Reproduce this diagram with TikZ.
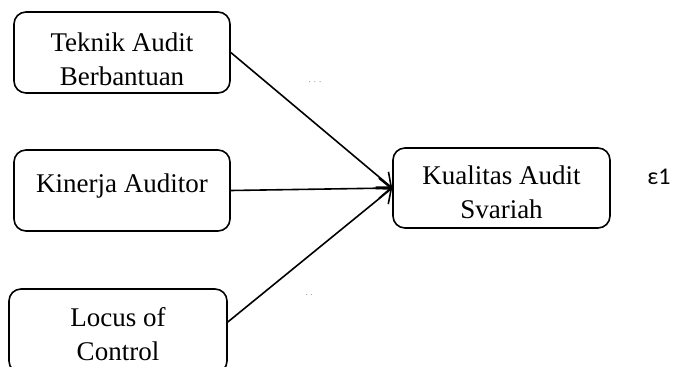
\documentclass[tikz,border=0pt]{standalone}
\usepackage{fontspec}
\setmainfont{Liberation Serif}
\newfontfamily\epsfont{Carlito}
\usetikzlibrary{arrows.meta}
\begin{document}
\begin{tikzpicture}[x=1pt,y=-1pt,
  box/.style={draw, line width=1.6pt, rounded corners=12pt, minimum width=216pt, minimum height=81pt, inner sep=0pt},
  txt/.style={align=center, font=\fontsize{27}{34}\selectfont, inner sep=0pt},
  conn/.style={line width=1.6pt, -{Straight Barb[length=12pt, width=20pt, line width=1.6pt]}},
  dots/.style={font=\fontsize{9}{9}\selectfont, text=gray, inner sep=0pt}]
\useasboundingbox (0,0) rectangle (673,367);
\node[box] (b1) at (122,52.5) {};
\node[txt] (t1) at (122,59) {Teknik Audit\\Berbantuan};
\node[box] (b2) at (122,190.5) {};
\node[txt] (t2) at (122,186) {Kinerja Auditor};
\node[box, minimum width=218pt, minimum height=84pt] (b3) at (118,331) {};
\node[txt] (t3) at (118,334) {Locus of\\Control};
\node[box, minimum width=217pt, minimum height=80pt] (y) at (501.5,188) {};
\node[txt] (ty) at (501.5,192) {Kualitas Audit\\Svariah};
\node[font=\epsfont\fontsize{24}{24}\selectfont, inner sep=0pt] (e) at (659,177) {ε1};
\node[dots] (d1) at (315,82) {. . .};
\node[dots] (d2) at (309,295) {. .};
\draw[conn] (b1.east) -- (y.west);
\draw[conn] (b2.east) -- (y.west);
\draw[conn] ([yshift=9pt]b3.east) -- (y.west);
\end{tikzpicture}
\end{document}
